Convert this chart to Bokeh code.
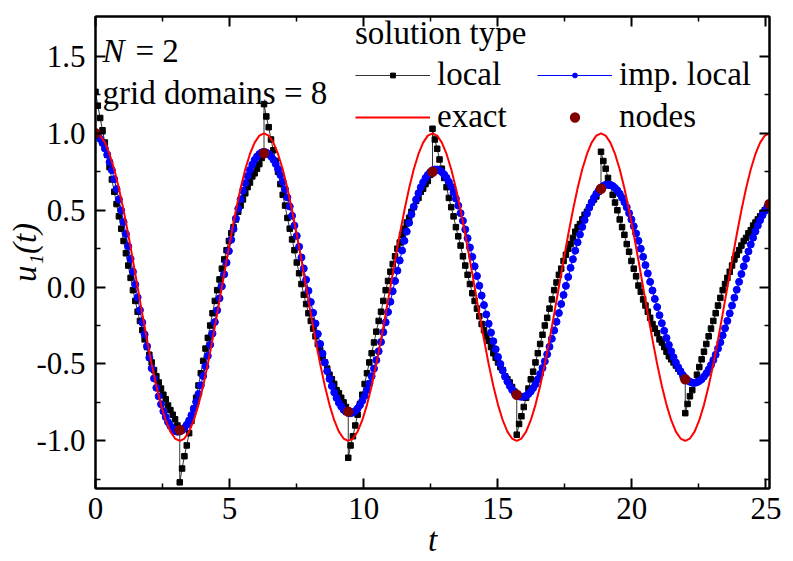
import numpy as np
from bokeh.plotting import figure
from bokeh.models import (Range1d, LinearAxis, Label, Legend, LegendItem,
                          FixedTicker, NumeralTickFormatter, CustomJSTickFormatter)
from bokeh.embed import file_html
from bokeh.resources import INLINE

FONT = "Liberation Serif"

# ---------------- data ----------------
n_domains = 8                 # grid domains, each of length pi
samples_per_domain = 36       # 5-degree sampling inside a domain

# exact solution, sampled every pi/18
exact_u = [
    1.0, 0.985, 0.940, 0.866, 0.766, 0.643, 0.5, 0.342, 0.174, 0.0, -0.174, -0.342, -0.5, -0.643, -0.766, -0.866, -0.940, -0.985,
    -1.0, -0.985, -0.940, -0.866, -0.766, -0.643, -0.5, -0.342, -0.174, 0.0, 0.174, 0.342, 0.5, 0.643, 0.766, 0.866, 0.940, 0.985,
    1.0, 0.985, 0.940, 0.866, 0.766, 0.643, 0.5, 0.342, 0.174, 0.0, -0.174, -0.342, -0.5, -0.643, -0.766, -0.866, -0.940, -0.985,
    -1.0, -0.985, -0.940, -0.866, -0.766, -0.643, -0.5, -0.342, -0.174, 0.0, 0.174, 0.342, 0.5, 0.643, 0.766, 0.866, 0.940, 0.985,
    1.0, 0.985, 0.940, 0.866, 0.766, 0.643, 0.5, 0.342, 0.174, 0.0, -0.174, -0.342, -0.5, -0.643, -0.766, -0.866, -0.940, -0.985,
    -1.0, -0.985, -0.940, -0.866, -0.766, -0.643, -0.5, -0.342, -0.174, 0.0, 0.174, 0.342, 0.5, 0.643, 0.766, 0.866, 0.940, 0.985,
    1.0, 0.985, 0.940, 0.866, 0.766, 0.643, 0.5, 0.342, 0.174, 0.0, -0.174, -0.342, -0.5, -0.643, -0.766, -0.866, -0.940, -0.985,
    -1.0, -0.985, -0.940, -0.866, -0.766, -0.643, -0.5, -0.342, -0.174, 0.0, 0.174, 0.342, 0.5, 0.643, 0.766, 0.866, 0.940, 0.985,
    1.0,
]

# improved local solution, sampled every pi/36 over the 8 domains
imp_local_u = [
    # domain 0
    1.000, 0.986, 0.964, 0.937, 0.902, 0.861, 0.813, 0.760, 0.702, 0.638, 0.571, 0.498, 0.423, 0.345, 0.265, 0.183, 0.100, 0.017,
    -0.067, -0.150, -0.230, -0.308, -0.385, -0.459, -0.528, -0.594, -0.655, -0.710, -0.762, -0.807, -0.845, -0.878, -0.903, -0.923, -0.936, -0.941,
    # domain 1
    -0.939, -0.931, -0.916, -0.895, -0.867, -0.833, -0.792, -0.747, -0.695, -0.639, -0.579, -0.515, -0.447, -0.375, -0.302, -0.227, -0.151, -0.073,
    0.005, 0.083, 0.159, 0.234, 0.308, 0.378, 0.446, 0.510, 0.571, 0.626, 0.676, 0.723, 0.763, 0.797, 0.827, 0.849, 0.865, 0.876,
    # domain 2
    0.879, 0.875, 0.866, 0.850, 0.829, 0.801, 0.768, 0.729, 0.685, 0.636, 0.583, 0.524, 0.464, 0.400, 0.333, 0.263, 0.193, 0.121,
    0.048, -0.024, -0.097, -0.167, -0.237, -0.305, -0.370, -0.432, -0.491, -0.547, -0.597, -0.644, -0.685, -0.721, -0.753, -0.777, -0.798, -0.811,
    # domain 3
    -0.818, -0.820, -0.816, -0.806, -0.789, -0.768, -0.740, -0.708, -0.670, -0.627, -0.580, -0.530, -0.475, -0.417, -0.357, -0.293, -0.229, -0.162,
    -0.095, -0.027, 0.040, 0.107, 0.173, 0.238, 0.301, 0.361, 0.418, 0.473, 0.523, 0.569, 0.611, 0.649, 0.681, 0.709, 0.730, 0.747,
    # domain 4
    0.760, 0.765, 0.765, 0.759, 0.748, 0.732, 0.711, 0.684, 0.652, 0.615, 0.575, 0.530, 0.481, 0.431, 0.375, 0.318, 0.258, 0.197,
    0.135, 0.072, 0.009, -0.055, -0.117, -0.178, -0.238, -0.296, -0.352, -0.404, -0.454, -0.500, -0.542, -0.581, -0.614, -0.643, -0.667, -0.687,
    # domain 5
    -0.701, -0.711, -0.714, -0.713, -0.707, -0.695, -0.679, -0.657, -0.632, -0.600, -0.565, -0.526, -0.483, -0.437, -0.388, -0.336, -0.282, -0.226,
    -0.169, -0.110, -0.051, 0.008, 0.066, 0.125, 0.181, 0.237, 0.291, 0.342, 0.391, 0.436, 0.478, 0.517, 0.550, 0.581, 0.607, 0.628,
    # domain 6
    0.646, 0.658, 0.665, 0.667, 0.665, 0.658, 0.645, 0.629, 0.607, 0.581, 0.552, 0.519, 0.481, 0.440, 0.396, 0.349, 0.301, 0.250,
    0.197, 0.143, 0.089, 0.034, -0.022, -0.077, -0.130, -0.183, -0.235, -0.284, -0.331, -0.376, -0.418, -0.456, -0.491, -0.522, -0.549, -0.573,
    # domain 7 (+ final point)
    -0.591, -0.606, -0.616, -0.622, -0.623, -0.619, -0.611, -0.599, -0.582, -0.561, -0.536, -0.507, -0.475, -0.440, -0.400, -0.359, -0.314, -0.268,
    -0.220, -0.171, -0.120, -0.069, -0.017, 0.034, 0.085, 0.135, 0.184, 0.232, 0.277, 0.321, 0.362, 0.400, 0.435, 0.467, 0.495, 0.519, 0.540,
]

# local solution, one list per grid domain (37 samples each, both ends included)
local_d0 = [1.27, 1.18, 1.10, 1.02, 0.94, 0.86, 0.78, 0.70, 0.62, 0.54, 0.46, 0.38, 0.30, 0.22, 0.14, 0.06, -0.02, -0.09, -0.16,
            -0.22, -0.28, -0.34, -0.39, -0.44, -0.49, -0.54, -0.58, -0.62, -0.66, -0.70, -0.73, -0.77, -0.80, -0.83, -0.86, -0.90, -0.93]
local_d1 = [-1.27, -1.18, -1.10, -1.03, -0.95, -0.87, -0.79, -0.72, -0.64, -0.56, -0.48, -0.40, -0.33, -0.25, -0.17, -0.09, -0.02, 0.05, 0.12,
            0.18, 0.24, 0.30, 0.35, 0.39, 0.44, 0.49, 0.53, 0.57, 0.61, 0.65, 0.68, 0.72, 0.74, 0.77, 0.80, 0.84, 0.87]
local_d2 = [1.19, 1.11, 1.04, 0.96, 0.89, 0.82, 0.75, 0.67, 0.60, 0.53, 0.45, 0.38, 0.31, 0.24, 0.16, 0.09, 0.02, -0.05, -0.11,
            -0.17, -0.22, -0.27, -0.32, -0.37, -0.41, -0.46, -0.49, -0.53, -0.57, -0.60, -0.63, -0.67, -0.69, -0.72, -0.75, -0.78, -0.81]
local_d3 = [-1.11, -1.03, -0.97, -0.90, -0.83, -0.76, -0.70, -0.63, -0.56, -0.49, -0.43, -0.36, -0.29, -0.22, -0.16, -0.09, -0.02, 0.04, 0.10,
            0.15, 0.20, 0.25, 0.29, 0.34, 0.38, 0.42, 0.45, 0.49, 0.52, 0.56, 0.58, 0.62, 0.64, 0.67, 0.69, 0.73, 0.75]
local_d4 = [1.03, 0.96, 0.90, 0.83, 0.77, 0.71, 0.65, 0.58, 0.52, 0.46, 0.39, 0.33, 0.27, 0.20, 0.14, 0.08, 0.02, -0.04, -0.09,
            -0.14, -0.19, -0.24, -0.28, -0.32, -0.35, -0.39, -0.43, -0.46, -0.49, -0.52, -0.54, -0.58, -0.60, -0.62, -0.65, -0.68, -0.70]
local_d5 = [-0.96, -0.89, -0.84, -0.78, -0.72, -0.66, -0.60, -0.55, -0.49, -0.43, -0.37, -0.31, -0.25, -0.20, -0.14, -0.08, -0.02, 0.03, 0.08,
            0.12, 0.17, 0.21, 0.25, 0.28, 0.32, 0.36, 0.39, 0.41, 0.44, 0.47, 0.49, 0.52, 0.55, 0.57, 0.59, 0.62, 0.64]
local_d6 = [0.88, 0.82, 0.77, 0.71, 0.66, 0.60, 0.55, 0.50, 0.44, 0.39, 0.34, 0.28, 0.23, 0.17, 0.12, 0.07, 0.01, -0.03, -0.08,
            -0.12, -0.16, -0.20, -0.24, -0.27, -0.30, -0.34, -0.36, -0.39, -0.42, -0.45, -0.47, -0.49, -0.51, -0.53, -0.55, -0.58, -0.60]
local_d7 = [-0.82, -0.76, -0.71, -0.67, -0.62, -0.57, -0.52, -0.47, -0.42, -0.37, -0.32, -0.27, -0.22, -0.17, -0.12, -0.07, -0.02, 0.02, 0.06,
            0.10, 0.14, 0.18, 0.21, 0.24, 0.27, 0.30, 0.32, 0.35, 0.37, 0.40, 0.42, 0.44, 0.46, 0.48, 0.50, 0.52, 0.54]
local_domains = [local_d0, local_d1, local_d2, local_d3, local_d4, local_d5, local_d6, local_d7]

# grid nodes (one per domain boundary)
node_u = [1.00, -0.93, 0.87, -0.81, 0.75, -0.70, 0.64, -0.60, 0.54]

x_major = [0, 5, 10, 15, 20, 25]
x_minor = [2.5, 7.5, 12.5, 17.5, 22.5]
y_major = [-1.0, -0.5, 0.0, 0.5, 1.0, 1.5]
y_minor = [-1.25, -0.75, -0.25, 0.25, 0.75, 1.25]

# ---------------- time grids ----------------
dt = np.pi / samples_per_domain
t_exact = np.arange(len(exact_u)) * np.pi / 18
t_imp = np.arange(len(imp_local_u)) * dt
t_local = np.concatenate([k * np.pi + np.arange(len(d)) * dt for k, d in enumerate(local_domains)])
u_local = np.concatenate([np.array(d) for d in local_domains])
t_nodes = np.arange(len(node_u)) * np.pi

# ---------------- figure ----------------
p = figure(width=785, height=561, output_backend="svg", toolbar_location=None,
           x_range=Range1d(0, n_domains * np.pi), y_range=Range1d(-1.31, 1.76),
           min_border_left=95, min_border_right=16, min_border_top=16, min_border_bottom=73)
p.xgrid.visible = False
p.ygrid.visible = False
p.outline_line_color = "black"
p.outline_line_width = 2
p.background_fill_color = "white"
p.border_fill_color = "white"


def style_axis(ax, ticks, minor, fmt, show):
    ax.ticker = FixedTicker(ticks=ticks, minor_ticks=minor)
    ax.axis_line_width = 2
    ax.axis_line_color = "black"
    ax.major_tick_line_width = 2
    ax.minor_tick_line_width = 1.5
    ax.major_tick_in = 10
    ax.major_tick_out = 0
    ax.minor_tick_in = 5
    ax.minor_tick_out = 0
    ax.major_label_text_font = FONT
    if show:
        ax.formatter = NumeralTickFormatter(format=fmt)
        ax.major_label_text_font_size = "31px"
        ax.major_label_text_color = "black"
    else:
        ax.formatter = CustomJSTickFormatter(code="return ''")
        ax.major_label_text_color = None
        ax.major_label_standoff = 0


xa = p.below[0]
style_axis(xa, x_major, x_minor, "0", True)
xa.major_label_standoff = 9
xa.axis_label = "t"
xa.axis_label_text_font = FONT
xa.axis_label_text_font_size = "33px"
xa.axis_label_text_font_style = "italic"
xa.axis_label_text_color = "black"
xa.axis_label_text_line_height = 0.6
xa.axis_label_standoff = 0

ya = p.left[0]
style_axis(ya, y_major, y_minor, "0.0", True)
ya.major_label_standoff = 10
ya.axis_label = "u\u2081(t)"
ya.axis_label_text_font = FONT
ya.axis_label_text_font_size = "33px"
ya.axis_label_text_font_style = "italic"
ya.axis_label_text_color = "black"
ya.axis_label_standoff = -10

top_ax = LinearAxis()
style_axis(top_ax, x_major, x_minor, "0", False)
p.add_layout(top_ax, "above")
right_ax = LinearAxis()
style_axis(right_ax, y_major, y_minor, "0.0", False)
p.add_layout(right_ax, "right")

# ---------------- series ----------------
loc_line = p.line(t_local, u_local, line_color="black", line_width=0.8)
loc_pts = p.scatter(t_local, u_local, marker="square", size=5.5, color="black")
imp_line = p.line(t_imp, imp_local_u, line_color="#0000ff", line_width=1)
imp_pts = p.scatter(t_imp, imp_local_u, marker="circle", size=7, color="#0000ff")
ex_line = p.line(t_exact, exact_u, line_color="#ff0000", line_width=2)
# small core + thick outline: ~10 px dots on the plot and in the legend key
node_pts = p.scatter(t_nodes, node_u, marker="circle", size=5, line_width=5.5, color="#800000")

legend = Legend(
    items=[LegendItem(label="local", renderers=[loc_line, loc_pts]),
           LegendItem(label="imp. local", renderers=[imp_line, imp_pts]),
           LegendItem(label="exact", renderers=[ex_line]),
           LegendItem(label="nodes", renderers=[node_pts])],
    orientation="horizontal", ncols=2,
    title="solution type", title_text_font=FONT, title_text_font_size="33px",
    title_text_font_style="normal", title_text_color="black", title_standoff=4,
    label_text_font=FONT, label_text_font_size="33px", label_text_color="black",
    glyph_width=75, glyph_height=12, label_standoff=7, label_width=95, label_height=12,
    spacing=5, padding=0, margin=0,
    border_line_color=None, background_fill_alpha=0,
    location=(260, 353),
)
p.add_layout(legend)

# ---------------- annotations ----------------
p.add_layout(Label(x=0.26, y=1.538, text="N", text_font=FONT, text_font_size="33px",
                   text_font_style="italic", text_baseline="alphabetic", text_color="black"))
p.add_layout(Label(x=1.49, y=1.538, text="= 2", text_font=FONT, text_font_size="33px",
                   text_baseline="alphabetic", text_color="black"))
p.add_layout(Label(x=0.26, y=1.264, text="grid domains = 8", text_font=FONT, text_font_size="33px",
                   text_baseline="alphabetic", text_color="black"))

open("out.html", "w").write(file_html(p, INLINE))
